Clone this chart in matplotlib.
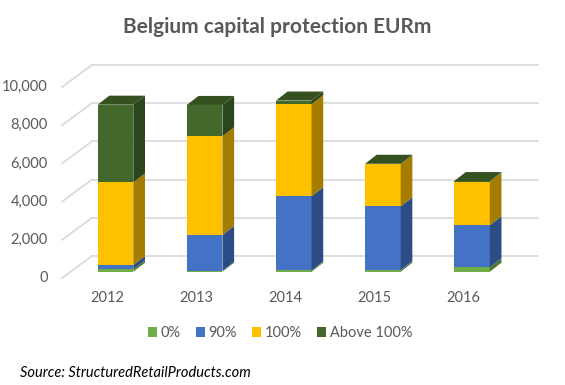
import matplotlib.pyplot as plt
from matplotlib.patches import Polygon
import numpy as np

plt.rcParams['font.family'] = ['Lato', 'DejaVu Sans']

years = ['2012', '2013', '2014', '2015', '2016']
series = ['0%', '90%', '100%', 'Above 100%']
pct0 = [125, 50, 70, 90, 225]
pct90 = [225, 1870, 3880, 3330, 2200]
pct100 = [4325, 5170, 4820, 2200, 2290]
above100 = [4070, 1640, 190, 30, 30]
yticks = [0, 2000, 4000, 6000, 8000, 10000]

front_col = ['#70AD47', '#4472C4', '#FFC000', '#43682B']
side_col = ['#4B7A2E', '#2C4C86', '#A37C00', '#2B451C']
top_col = ['#5A8C3A', '#3A62A8', '#D9A300', '#34511F']

fig = plt.figure(figsize=(5.65, 3.85), dpi=100)
ax = fig.add_axes([0, 0, 1, 1])
ax.set_xlim(-1.296, 5.044)
ax.set_ylim(-5932, 14225)
ax.axis('off')

# fake 3d: depth offsets in data units
bw = 0.4
dx, dy = 0.131, 472
wall_x0, wall_x1, wall_dy = -0.264, 4.742, 823
lab_x, lab_dy = -0.600, -330
grid = '#D9D9D9'
txt = '#595959'

for v in yticks:
    ax.plot([lab_x, wall_x0], [v + lab_dy, v + wall_dy], color=grid, lw=1.2, zorder=1)
    ax.plot([wall_x0, wall_x1], [v + wall_dy, v + wall_dy], color=grid, lw=1.2, zorder=1)
    ax.text(-0.758, v + lab_dy, f'{v:,}', ha='right', va='center', fontsize=10.5, color=txt)

x = np.arange(len(years))
data = [pct0, pct90, pct100, above100]
bottom = np.zeros(len(years))
for k, vals in enumerate(data):
    vals = np.array(vals, dtype=float)
    ax.bar(x, vals, bw, bottom=bottom, color=front_col[k], label=series[k], zorder=3)
    for i in range(len(years)):
        xr = x[i] + bw / 2
        b, t = bottom[i], bottom[i] + vals[i]
        ax.add_patch(Polygon([(xr, b), (xr + dx, b + dy), (xr + dx, t + dy), (xr, t)],
                             closed=True, facecolor=side_col[k], edgecolor='none', zorder=3))
    bottom += vals

# top faces
for i in range(len(years)):
    xl, xr, t = x[i] - bw / 2, x[i] + bw / 2, bottom[i]
    ax.add_patch(Polygon([(xl, t), (xr, t), (xr + dx, t + dy), (xl + dx, t + dy)],
                         closed=True, facecolor=top_col[3], edgecolor='none', zorder=3))

for i, y in enumerate(years):
    ax.text(x[i] - 0.095, -1380, y, ha='center', va='center', fontsize=10.5, color=txt)

fig.text(277 / 565, 1 - 27 / 385, 'Belgium capital protection EURm', ha='center', va='center',
         fontsize=15, fontweight='bold', color=txt)

ax.legend(loc='center', bbox_to_anchor=(280 / 565, 1 - 333 / 385), ncol=4, frameon=False,
          fontsize=10.5, handlelength=0.65, handleheight=0.65, handletextpad=0.25,
          columnspacing=1.0, labelcolor=txt)

fig.text(20 / 565, 1 - 373 / 385, 'Source: StructuredRetailProducts.com', ha='left', va='center',
         fontsize=10.5, style='italic', color='black')

fig.savefig('out.png', dpi=100)
